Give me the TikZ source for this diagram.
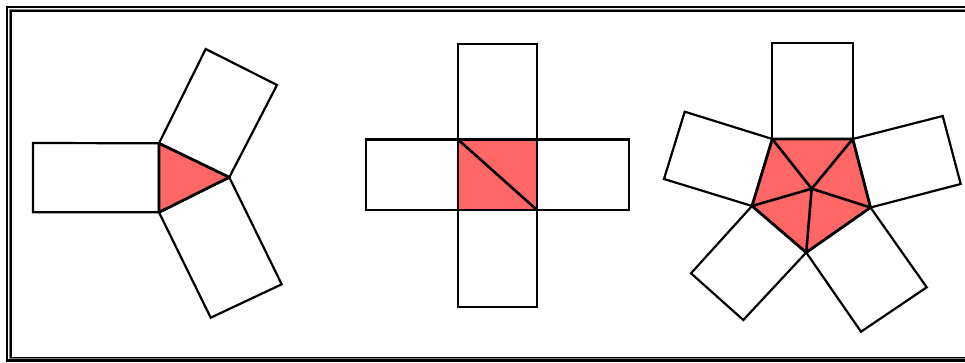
\documentclass[tikz,border=0pt]{standalone}
\definecolor{tri}{RGB}{255,102,102}
\tikzset{
  rectside/.style={draw=black, line width=2.2pt, fill=white},
  core/.style={draw=black, line width=2.8pt, fill=tri, line join=round},
  inner/.style={draw=black, line width=2.6pt, line cap=round},
}
\begin{document}
\begin{tikzpicture}[x=1pt,y=-1pt]
\useasboundingbox (0,0) rectangle (965,363);
% frame
\draw[line width=2.2pt] (7,7) rectangle (972,360.5);
\draw[line width=1pt, gray] (9.3,9.3) rectangle (970,358.6);
\draw[line width=1.6pt] (11,11) rectangle (968,357.5);

% ---- triangle figure
\coordinate (ta) at (159,143.3);
\coordinate (tb) at (159,212.3);
\coordinate (tc) at (229.3,177.3);
\draw[rectside] (ta) -- (33,143) -- (33,212.3) -- (tb) -- cycle;
\draw[rectside] (ta) -- (205.7,49) -- (277,85) -- (tc) -- cycle;
\draw[rectside] (tb) -- (210.7,317.7) -- (281.7,284.3) -- (tc) -- cycle;
\draw[core] (ta) -- (tb) -- (tc) -- cycle;

% ---- square figure
\coordinate (sa) at (458,139.5);
\coordinate (sb) at (537,139.5);
\coordinate (sc) at (537,210);
\coordinate (sd) at (458,210);
\draw[rectside] (sa) -- (458,44) -- (537,44) -- (sb) -- cycle;
\draw[rectside] (sd) -- (458,306.7) -- (537,306.7) -- (sc) -- cycle;
\draw[rectside] (sa) -- (366,139.5) -- (366,210) -- (sd) -- cycle;
\draw[rectside] (sb) -- (629.3,139.5) -- (629.3,210) -- (sc) -- cycle;
\draw[core] (sa) -- (sb) -- (sc) -- (sd) -- cycle;
\draw[inner] (sa) -- (sc);

% ---- pentagon figure
\coordinate (pa) at (772.3,139);
\coordinate (pb) at (852.7,139);
\coordinate (pc) at (870.5,207.5);
\coordinate (pd) at (806.2,252.5);
\coordinate (pe) at (752,206);
\coordinate (pm) at (811.7,188.7);
\draw[rectside] (pa) -- (772.3,43.3) -- (852.7,43.3) -- (pb) -- cycle;
\draw[rectside] (pb) -- (942.7,116) -- (960.7,184) -- (pc) -- cycle;
\draw[rectside] (pc) -- (926.7,287.3) -- (861,331.7) -- (pd) -- cycle;
\draw[rectside] (pd) -- (743.3,320) -- (691,273.3) -- (pe) -- cycle;
\draw[rectside] (pe) -- (664,179) -- (684.7,111.7) -- (pa) -- cycle;
\draw[core] (pa) -- (pb) -- (pc) -- (pd) -- (pe) -- cycle;
\draw[inner] (pm) -- (pa);
\draw[inner] (pm) -- (pb);
\draw[inner] (pm) -- (pc);
\draw[inner] (pm) -- (pd);
\draw[inner] (pm) -- (pe);
\end{tikzpicture}
\end{document}
